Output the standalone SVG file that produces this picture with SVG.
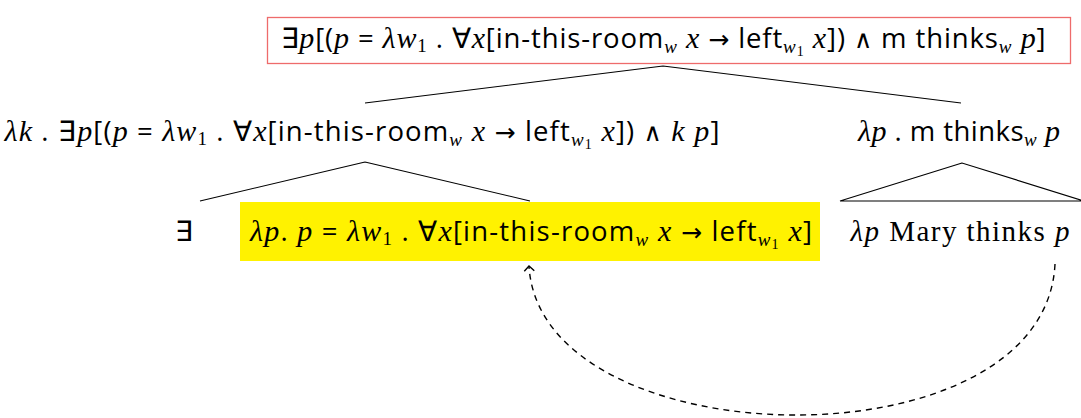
<svg xmlns="http://www.w3.org/2000/svg" width="1081" height="418" viewBox="0 0 1081 418">
<style>
text{font-family:"Open Sans","Noto Sans",sans-serif;font-size:27.5px;fill:#000}
.i{font-family:"Liberation Serif",serif;font-style:italic;font-size:30px}
.r{font-family:"Liberation Serif",serif}
.o{font-family:"DejaVu Sans",sans-serif;font-size:25px}
.sb{font-size:19px}
.ss{font-size:14px}
.ln{stroke:#000;stroke-width:1.1;fill:none}
.dash{stroke:#000;stroke-width:1.4;fill:none;stroke-dasharray:6 5}
</style>
<defs>
<marker id="arr" viewBox="0 0 12 12" refX="6" refY="6" markerWidth="12" markerHeight="12" markerUnits="userSpaceOnUse" orient="auto">
<path d="M1,1 L6,6 L1,11" fill="none" stroke="#000" stroke-width="1.4"/>
</marker>
</defs>
<g id="connectors">
<path class="ln" d="M663,66 L365,103 M663,66 L961,103"/>
<path class="ln" d="M365,162 L200,201 M365,162 L530,201"/>
<path class="ln" d="M962,163 L840,201 L1084,201 Z"/>
<path class="dash" d="M1055,264 C1045,470 540,460 529,266" marker-end="url(#arr)"/>
</g>
<g id="root">
<rect x="267.5" y="17.5" width="803" height="46" fill="#fff" stroke="#ee6b6b" stroke-width="1.3"/>
<text x="663" y="48" text-anchor="middle" textLength="765" lengthAdjust="spacing">∃<tspan class="i">p</tspan>[(<tspan class="i">p</tspan> = <tspan class="i">λw</tspan><tspan class="r sb" dy="4">1</tspan><tspan dy="-4"> . ∀</tspan><tspan class="i">x</tspan>[in-this-room<tspan class="i sb" dy="5">w</tspan><tspan class="i" dy="-5"> x</tspan> <tspan class="o">→</tspan> left<tspan class="i sb" dy="5">w</tspan><tspan class="r ss" dy="3">1</tspan><tspan class="i" dy="-8"> x</tspan>]) <tspan class="o">∧</tspan> m thinks<tspan class="i sb" dy="5">w</tspan><tspan class="i" dy="-5"> p</tspan>]</text>
</g>
<g id="left-mid">
<text x="362" y="141" text-anchor="middle" textLength="715" lengthAdjust="spacing"><tspan class="i">λk</tspan> . ∃<tspan class="i">p</tspan>[(<tspan class="i">p</tspan> = <tspan class="i">λw</tspan><tspan class="r sb" dy="4">1</tspan><tspan dy="-4"> . ∀</tspan><tspan class="i">x</tspan>[in-this-room<tspan class="i sb" dy="5">w</tspan><tspan class="i" dy="-5"> x</tspan> <tspan class="o">→</tspan> left<tspan class="i sb" dy="5">w</tspan><tspan class="r ss" dy="3">1</tspan><tspan class="i" dy="-8"> x</tspan>]) <tspan class="o">∧</tspan> <tspan class="i">k p</tspan>]</text>
</g>
<g id="right-mid">
<text x="959" y="141" text-anchor="middle" textLength="202" lengthAdjust="spacing"><tspan class="i">λp</tspan> . m thinks<tspan class="i sb" dy="5">w</tspan><tspan class="i" dy="-5"> p</tspan></text>
</g>
<g id="exists">
<text x="184" y="241" text-anchor="middle">∃</text>
</g>
<g id="restrictor">
<rect x="240" y="202" width="580" height="59" fill="#fff200"/>
<text x="531" y="241" text-anchor="middle" textLength="562" lengthAdjust="spacing"><tspan class="i">λp</tspan>. <tspan class="i">p</tspan> = <tspan class="i">λw</tspan><tspan class="r sb" dy="4">1</tspan><tspan dy="-4"> . ∀</tspan><tspan class="i">x</tspan>[in-this-room<tspan class="i sb" dy="5">w</tspan><tspan class="i" dy="-5"> x</tspan> <tspan class="o">→</tspan> left<tspan class="i sb" dy="5">w</tspan><tspan class="r ss" dy="3">1</tspan><tspan class="i" dy="-8"> x</tspan>]</text>
</g>
<g id="scope">
<text x="960" y="241" text-anchor="middle" class="r" style="font-size:29px" textLength="219" lengthAdjust="spacing"><tspan class="i" style="font-size:29px">λp</tspan> Mary thinks <tspan class="i" style="font-size:29px">p</tspan></text>
</g>
</svg>
